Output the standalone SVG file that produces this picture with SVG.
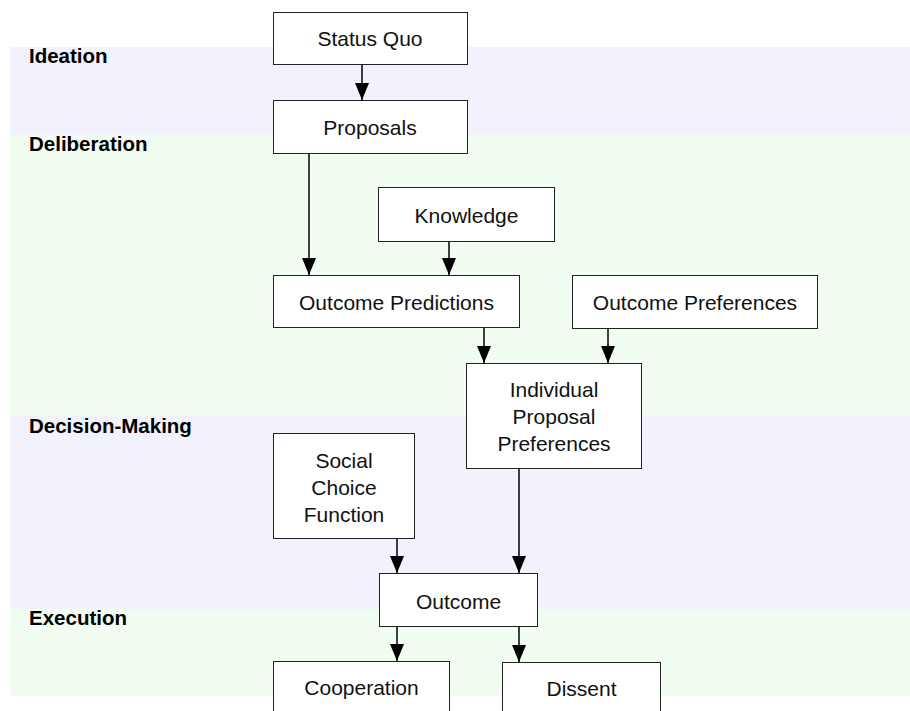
<svg xmlns="http://www.w3.org/2000/svg" width="910" height="711" viewBox="0 0 910 711">
<defs>
<style>
.bandA{fill:#f2f2fd}
.bandB{fill:#f2fdf2}
.lbl{font-family:"Liberation Sans",Arial,sans-serif;font-weight:bold;font-size:20.5px;fill:#000}
.box{fill:#fff;stroke:#222;stroke-width:1}
.t{font-family:"Liberation Sans",Arial,sans-serif;font-size:21px;fill:#111;text-anchor:middle}
.c{stroke:#000;stroke-width:1.5;fill:none;marker-end:url(#ah)}
</style>
<marker id="ah" markerUnits="userSpaceOnUse" markerWidth="18" markerHeight="14" refX="17" refY="7" orient="auto">
<path d="M0,0 L17,7 L0,14 z" fill="#000"/>
</marker>
</defs>
<rect width="910" height="711" fill="#fff"/>
<g id="bands">
<rect class="bandA" x="10" y="47" width="900" height="88"/>
<rect class="bandB" x="10" y="135" width="900" height="281"/>
<rect class="bandA" x="10" y="416" width="900" height="193"/>
<rect class="bandB" x="10" y="609" width="900" height="87"/>
<text class="lbl" x="29" y="63">Ideation</text>
<text class="lbl" x="29" y="151">Deliberation</text>
<text class="lbl" x="29" y="433">Decision-Making</text>
<text class="lbl" x="29" y="625">Execution</text>
</g>
<g id="connectors">
<line class="c" x1="362" y1="64" x2="362" y2="100"/>
<line class="c" x1="309" y1="153" x2="309" y2="275"/>
<line class="c" x1="449" y1="241" x2="449" y2="275"/>
<line class="c" x1="484" y1="327" x2="484" y2="363"/>
<line class="c" x1="608" y1="328" x2="608" y2="363"/>
<line class="c" x1="519" y1="468" x2="519" y2="573"/>
<line class="c" x1="397" y1="538" x2="397" y2="573"/>
<line class="c" x1="397" y1="626" x2="397" y2="661"/>
<line class="c" x1="519" y1="626" x2="519" y2="662"/>
</g>
<g id="status-quo"><rect class="box" x="273.5" y="12.5" width="194" height="52"/><text class="t" x="370" y="46">Status Quo</text></g>
<g id="proposals"><rect class="box" x="273.5" y="100.5" width="194" height="53"/><text class="t" x="370" y="135">Proposals</text></g>
<g id="knowledge"><rect class="box" x="378.5" y="187.5" width="176" height="54"/><text class="t" x="466.5" y="223">Knowledge</text></g>
<g id="outcome-predictions"><rect class="box" x="273.5" y="275.5" width="246" height="52"/><text class="t" x="396.5" y="310">Outcome Predictions</text></g>
<g id="outcome-preferences"><rect class="box" x="572.5" y="275.5" width="245" height="53"/><text class="t" x="695" y="310">Outcome Preferences</text></g>
<g id="individual-proposal-preferences"><rect class="box" x="466.5" y="363.5" width="175" height="105"/><text class="t" x="554" y="397">Individual</text><text class="t" x="554" y="424">Proposal</text><text class="t" x="554" y="451">Preferences</text></g>
<g id="social-choice-function"><rect class="box" x="273.5" y="433.5" width="141" height="105"/><text class="t" x="344" y="468">Social</text><text class="t" x="344" y="495">Choice</text><text class="t" x="344" y="522">Function</text></g>
<g id="outcome"><rect class="box" x="379.5" y="573.5" width="158" height="53"/><text class="t" x="458.5" y="609">Outcome</text></g>
<g id="cooperation"><rect class="box" x="273.5" y="661.5" width="176" height="60"/><text class="t" x="361.5" y="695">Cooperation</text></g>
<g id="dissent"><rect class="box" x="502.5" y="662.5" width="158" height="60"/><text class="t" x="581.5" y="696">Dissent</text></g>
</svg>
